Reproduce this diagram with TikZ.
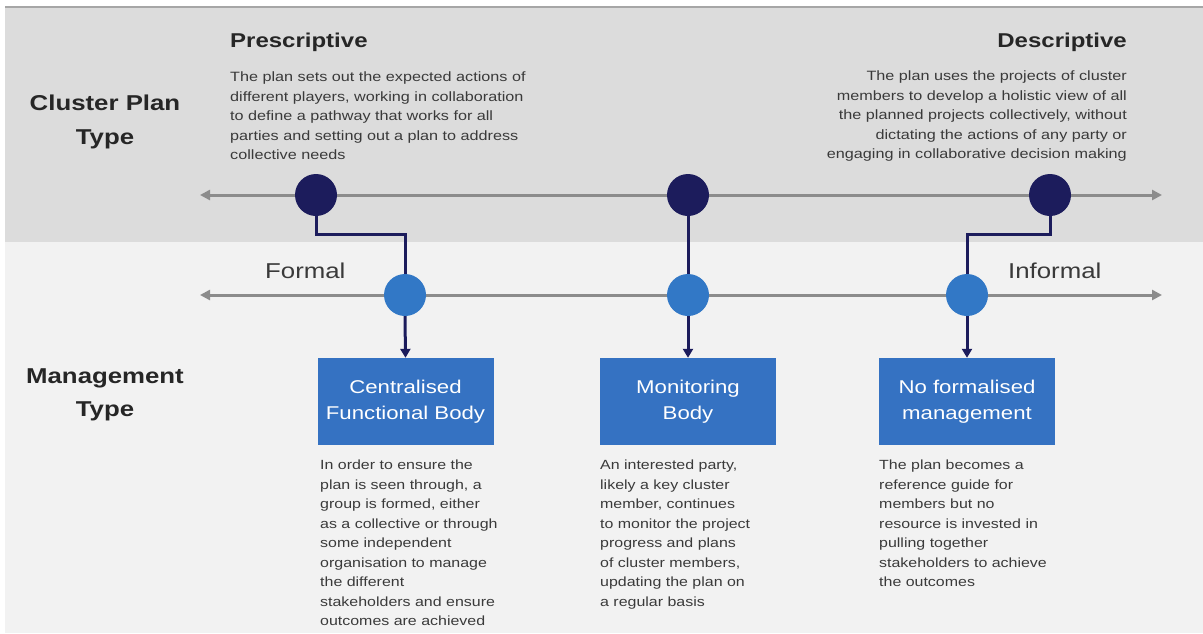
\documentclass[tikz,border=0pt]{standalone}
\usepackage{fontspec}
\setmainfont{Liberation Sans}[FakeStretch=1.2]
\usetikzlibrary{arrows.meta,positioning}
\definecolor{topband}{HTML}{DCDCDC}
\definecolor{lowband}{HTML}{F2F2F2}
\definecolor{navy}{HTML}{1C1C5C}
\definecolor{midblue}{HTML}{3278C6}
\definecolor{boxblue}{HTML}{3572C2}
\definecolor{axisgray}{HTML}{8C8C8C}
\definecolor{textgray}{HTML}{3A3A3A}
\begin{document}
\begin{tikzpicture}[x=1pt,y=-1pt,
  axis/.style={axisgray,line width=3pt,{Triangle[length=10pt,width=10pt]}-{Triangle[length=10pt,width=10pt]}},
  plandot/.style={circle,fill=navy,minimum size=42pt,inner sep=0pt},
  mgmtdot/.style={circle,fill=midblue,minimum size=42pt,inner sep=0pt},
  link/.style={navy,line width=3pt},
  linkarrow/.style={navy,line width=3pt,-{Triangle[length=9pt,width=10pt]}},
  mgmtbox/.style={fill=boxblue,text=white,minimum width=176pt,minimum height=87pt,
    align=center,font=\fontsize{18.5}{26}\selectfont},
  heading/.style={font=\bfseries\fontsize{21.5}{33.5}\selectfont,align=center,text=black!85},
  planhead/.style={font=\bfseries\fontsize{20}{24}\selectfont,text=black!85,inner sep=0pt},
  plantext/.style={font=\fontsize{13.5}{19.5}\selectfont,text=textgray,inner sep=0pt},
  boxtext/.style={font=\fontsize{13.3}{19.5}\selectfont,text=textgray,inner sep=0pt,align=left},
  endlabel/.style={font=\fontsize{21.5}{24}\selectfont,text=textgray,inner sep=0pt}]
\useasboundingbox (0,0) rectangle (1203,633);
% background bands
\fill[white] (0,0) rectangle (1203,633);
\fill[topband] (5,8) rectangle (1203,242);
\fill[lowband] (5,242) rectangle (1203,633);
\draw[black!35,line width=1.5pt] (5,7) -- (1203,7);

% row headings
\node[heading] (plantype) at (105,122) {Cluster Plan\\Type};
\node[heading] (mgmttype) at (105,395) {Management\\Type};

% plan type ends
\node[planhead,anchor=west] (presc) at (230,42) {Prescriptive};
\node[plantext,anchor=north west,align=left] (presctext) at (230,72)
  {The plan sets out the expected actions of\\different players, working in collaboration\\to define a pathway that works for all\\parties and setting out a plan to address\\collective needs};
\node[planhead,anchor=east] (descr) at (1127,42) {Descriptive};
\node[plantext,anchor=north east,align=right] (descrtext) at (1127,71)
  {The plan uses the projects of cluster\\members to develop a holistic view of all\\the planned projects collectively, without\\dictating the actions of any party or\\engaging in collaborative decision making};

% axes
\coordinate (planL) at (200,195);
\coordinate (planR) at (1162,195);
\coordinate (mgmtL) at (200,295);
\coordinate (mgmtR) at (1162,295);
\draw[axis] (planL) -- (planR);
\draw[axis] (mgmtL) -- (mgmtR);
\node[endlabel,anchor=west] (formal) at (265,271) {Formal};
\node[endlabel,anchor=west] (informal) at (1008,271) {Informal};

% dots
\node[plandot] (p1) at (316,195) {};
\node[plandot] (p2) at (688,195) {};
\node[plandot] (p3) at (1050,195) {};
\node[mgmtdot] (m1) at (405,295) {};
\node[mgmtdot] (m2) at (688,295) {};
\node[mgmtdot] (m3) at (967,295) {};

% management boxes
\node[mgmtbox] (b1) at (405.5,401.5) {Centralised\\Functional Body};
\node[mgmtbox] (b2) at (688,401.5) {Monitoring\\Body};
\node[mgmtbox] (b3) at (967,401.5) {No formalised\\management};

% connectors
\draw[link] (p1.south) |- (405,234) -- (m1.north);
\draw[link] (p2.south) -- (m2.north);
\draw[link] (p3.south) |- (967,234) -- (m3.north);
\draw[linkarrow] (m1.south) -- (b1.north);
\draw[linkarrow] (m2.south) -- (b2.north);
\draw[linkarrow] (m3.south) -- (b3.north);

% box descriptions
\node[boxtext,anchor=north west] (t1) at (320,460)
  {In order to ensure the\\plan is seen through, a\\group is formed, either\\as a collective or through\\some independent\\organisation to manage\\the different\\stakeholders and ensure\\outcomes are achieved};
\node[boxtext,anchor=north west] (t2) at (600,460)
  {An interested party,\\likely a key cluster\\member, continues\\to monitor the project\\progress and plans\\of cluster members,\\updating the plan on\\a regular basis};
\node[boxtext,anchor=north west] (t3) at (879,460)
  {The plan becomes a\\reference guide for\\members but no\\resource is invested in\\pulling together\\stakeholders to achieve\\the outcomes};
\end{tikzpicture}
\end{document}
